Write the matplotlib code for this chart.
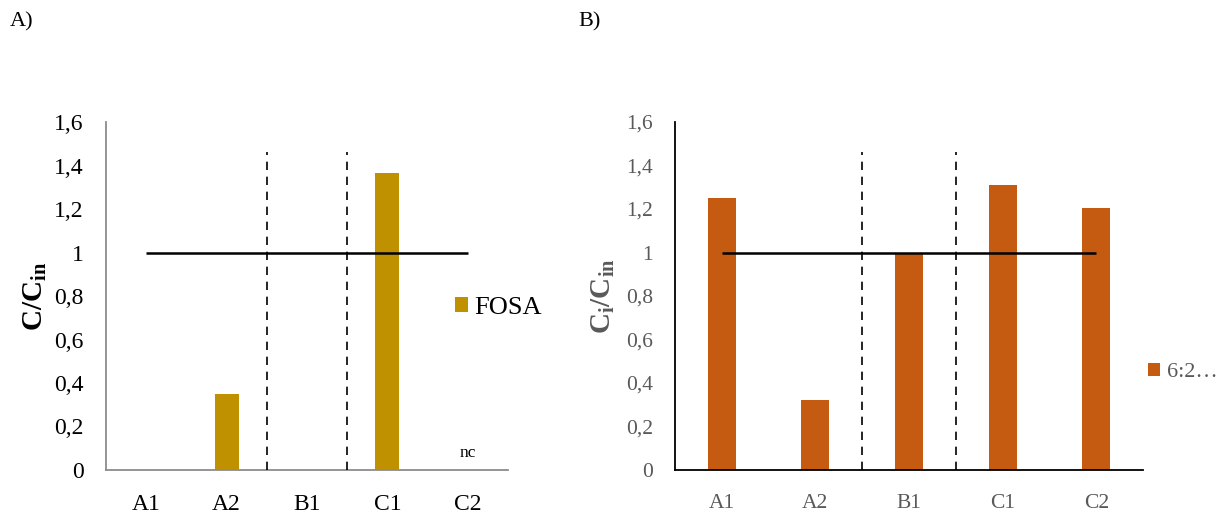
import numpy as np
import matplotlib.pyplot as plt

plt.rcParams['font.family'] = ['Liberation Serif', 'DejaVu Serif']
plt.rcParams['mathtext.fontset'] = 'custom'
plt.rcParams['mathtext.rm'] = 'Liberation Serif'
plt.rcParams['mathtext.it'] = 'Liberation Serif:italic'
plt.rcParams['mathtext.bf'] = 'Liberation Serif:bold'

# data
sites = ['A1', 'A2', 'B1', 'C1', 'C2']
fosa = [0.0, 0.35, 0.0, 1.365, 0.0]
ftoh62 = [1.25, 0.32, 1.0, 1.31, 1.205]
yticks = [0, 0.2, 0.4, 0.6, 0.8, 1.0, 1.2, 1.4, 1.6]
ytick_labels = ['0', '0,2', '0,4', '0,6', '0,8', '1', '1,2', '1,4', '1,6']
ref_level = 1.0
split_top = 1.46

W, H = 1231, 515
fig = plt.figure(figsize=(W / 100, H / 100), dpi=100)

def px_axes(x0, x1, ytop, ybot):
    return fig.add_axes([x0 / W, 1 - ybot / H, (x1 - x0) / W, (ybot - ytop) / H])

def setup(ax, col, spine_col, fs, xpad, ypad):
    x = np.arange(len(sites))
    ax.set_xlim(-0.5, len(sites) - 0.5)
    ax.set_ylim(0, 1.6)
    ax.set_xticks(x)
    ax.set_xticklabels(sites, fontsize=fs, color=col)
    ax.set_yticks(yticks)
    ax.set_yticklabels(ytick_labels, fontsize=fs, color=col)
    ax.tick_params(length=0)
    ax.tick_params(axis='x', pad=xpad)
    ax.tick_params(axis='y', pad=ypad)
    for s in ['top', 'right']:
        ax.spines[s].set_visible(False)
    for s in ['left', 'bottom']:
        ax.spines[s].set_color(spine_col)
        ax.spines[s].set_linewidth(1.3)
    ax.hlines(ref_level, 0, len(sites) - 1, color='black', lw=1.8, zorder=3)
    ax.vlines([1.5, 2.5], 0, split_top, color='black', lw=1.2,
              linestyles=(0, (5, 4)), zorder=3)
    return x

# Panel A
ax1 = px_axes(106, 508, 122, 470)
x = setup(ax1, 'black', '#8c8c8c', 17, 17, 16)
ax1.bar(x, fosa, width=0.30, color='#BF9000', label='FOSA', zorder=2)
ax1.text(4, 0.04, 'nc', ha='center', va='bottom', fontsize=12.5)
ax1.set_ylabel(r'$\mathbf{C/C_{in}}$', fontsize=21, labelpad=4)
ax1.legend(loc='center left', bbox_to_anchor=(0.867, 0.465), frameon=False,
           fontsize=19, handlelength=0.5, handleheight=0.5, handletextpad=0.25,
           borderpad=0, borderaxespad=0)

# Panel B
ax2 = px_axes(675, 1143, 122, 470)
x = setup(ax2, '#595959', 'black', 15.5, 17, 16)
ax2.bar(x, ftoh62, width=0.30, color='#C55A11', label='6:2…', zorder=2)
ax2.set_ylabel(r'$\mathbf{C_i/C_{in}}$', fontsize=21, color='#595959', labelpad=6)
leg = ax2.legend(loc='center left', bbox_to_anchor=(1.01, 0.28), frameon=False,
                 fontsize=16, handlelength=0.55, handleheight=0.55,
                 handletextpad=0.3, borderpad=0, borderaxespad=0)
for t in leg.get_texts():
    t.set_color('#595959')

fig.text(10 / W, 1 - 22 / H, 'A)', fontsize=16, va='center')
fig.text(578 / W, 1 - 22 / H, 'B)', fontsize=16, va='center')

plt.savefig('out.png', dpi=100)
